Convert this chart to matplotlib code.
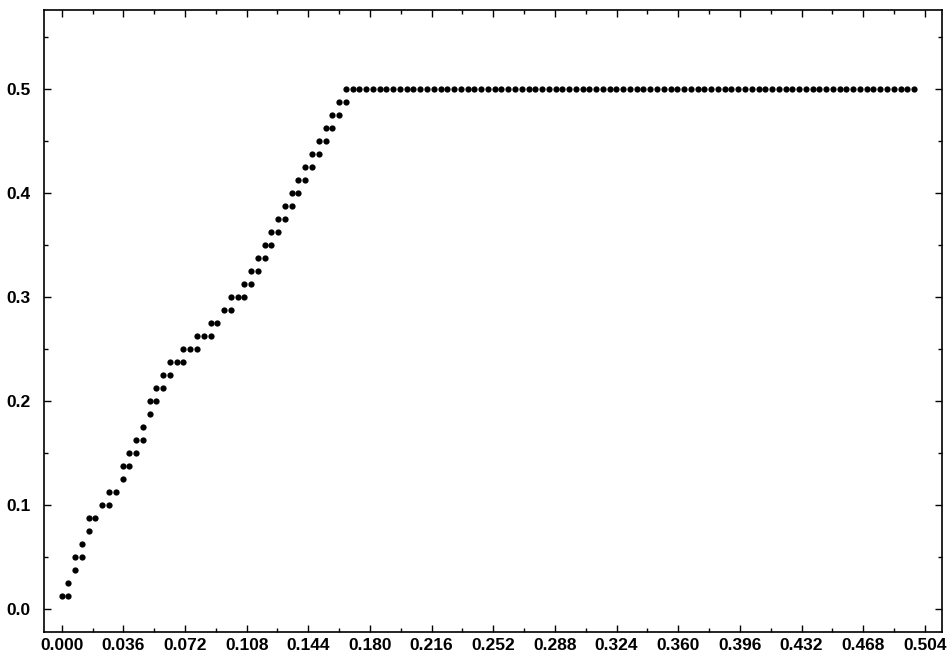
import matplotlib
matplotlib.use('Agg')
import matplotlib.pyplot as plt
from matplotlib.ticker import MultipleLocator, FormatStrFormatter

# Data: rising staircase part
ramp_x = [0.0, 0.00395, 0.00395, 0.0079, 0.0079, 0.01185, 0.01185, 0.0158, 0.0158, 0.01975,
          0.0237, 0.02765, 0.02765, 0.0316, 0.03555, 0.03555, 0.0395, 0.0395, 0.04345, 0.04345,
          0.0474, 0.0474, 0.05135, 0.05135, 0.0553, 0.0553, 0.05925, 0.05925, 0.0632, 0.0632,
          0.06715, 0.0711, 0.0711, 0.07505, 0.079, 0.079, 0.08295, 0.0869, 0.0869, 0.09085,
          0.0948, 0.09875, 0.09875, 0.1027, 0.10665, 0.10665, 0.1106, 0.1106, 0.11455, 0.11455,
          0.1185, 0.1185, 0.12245, 0.12245, 0.1264, 0.1264, 0.13035, 0.13035, 0.1343, 0.1343,
          0.13825, 0.13825, 0.1422, 0.1422, 0.14615, 0.14615, 0.1501, 0.1501, 0.15405, 0.15405,
          0.158, 0.158, 0.16195, 0.16195, 0.1659]
ramp_y = [0.0125, 0.0125, 0.025, 0.0375, 0.05, 0.05, 0.0625, 0.075, 0.0875, 0.0875,
          0.1, 0.1, 0.1125, 0.1125, 0.125, 0.1375, 0.1375, 0.15, 0.15, 0.1625,
          0.1625, 0.175, 0.1875, 0.2, 0.2, 0.2125, 0.2125, 0.225, 0.225, 0.2375,
          0.2375, 0.2375, 0.25, 0.25, 0.25, 0.2625, 0.2625, 0.2625, 0.275, 0.275,
          0.2875, 0.2875, 0.3, 0.3, 0.3, 0.3125, 0.3125, 0.325, 0.325, 0.3375,
          0.3375, 0.35, 0.35, 0.3625, 0.3625, 0.375, 0.375, 0.3875, 0.3875, 0.4,
          0.4, 0.4125, 0.4125, 0.425, 0.425, 0.4375, 0.4375, 0.45, 0.45, 0.4625,
          0.4625, 0.475, 0.475, 0.4875, 0.4875]

# Data: plateau part
plateau_x = [0.1659, 0.1699, 0.1738, 0.1778, 0.1817, 0.1857, 0.1896, 0.1936, 0.1975, 0.2015,
             0.2054, 0.2094, 0.2133, 0.2173, 0.2212, 0.2252, 0.2291, 0.2331, 0.237, 0.241,
             0.2449, 0.2489, 0.2528, 0.2568, 0.2607, 0.2647, 0.2686, 0.2726, 0.2765, 0.2805,
             0.2844, 0.2884, 0.2923, 0.2963, 0.3002, 0.3042, 0.3081, 0.3121, 0.316, 0.32,
             0.3239, 0.3279, 0.3318, 0.3358, 0.3397, 0.3437, 0.3476, 0.3516, 0.3555, 0.3595,
             0.3634, 0.3674, 0.3713, 0.3753, 0.3792, 0.3832, 0.3871, 0.3911, 0.395, 0.399,
             0.4029, 0.4069, 0.4108, 0.4148, 0.4187, 0.4227, 0.4266, 0.4306, 0.4345, 0.4385,
             0.4424, 0.4464, 0.4503, 0.4543, 0.4582, 0.4622, 0.4661, 0.4701, 0.474, 0.478,
             0.4819, 0.4859, 0.4898, 0.4938, 0.4977]
plateau_level = 0.5

plt.rcParams['font.family'] = ['Liberation Sans', 'DejaVu Sans']

fig = plt.figure(figsize=(9.49, 6.58), dpi=100)
ax = fig.add_axes([0.0464, 0.0395, 0.9462, 0.9453])

ax.plot(ramp_x, ramp_y, 'o', color='black', markersize=4.5, markeredgewidth=0)
ax.plot(plateau_x, [plateau_level] * len(plateau_x), 'o', color='black',
        markersize=4.5, markeredgewidth=0)

ax.set_xlim(-0.0103, 0.514)
ax.set_ylim(-0.0221, 0.576)

ax.xaxis.set_major_locator(MultipleLocator(0.036))
ax.xaxis.set_minor_locator(MultipleLocator(0.018))
ax.xaxis.set_major_formatter(FormatStrFormatter('%.3f'))
ax.yaxis.set_major_locator(MultipleLocator(0.1))
ax.yaxis.set_minor_locator(MultipleLocator(0.05))
ax.yaxis.set_major_formatter(FormatStrFormatter('%.1f'))

ax.tick_params(which='both', direction='in', top=True, right=True,
               labelsize=12.5, width=1.0)
ax.tick_params(which='major', length=5)
ax.tick_params(which='minor', length=3)
ax.tick_params(axis='x', pad=4)
ax.tick_params(axis='y', pad=10)
for lbl in ax.get_xticklabels() + ax.get_yticklabels():
    lbl.set_fontweight('bold')

for s in ax.spines.values():
    s.set_linewidth(1.2)

fig.savefig('out.png', dpi=100)
